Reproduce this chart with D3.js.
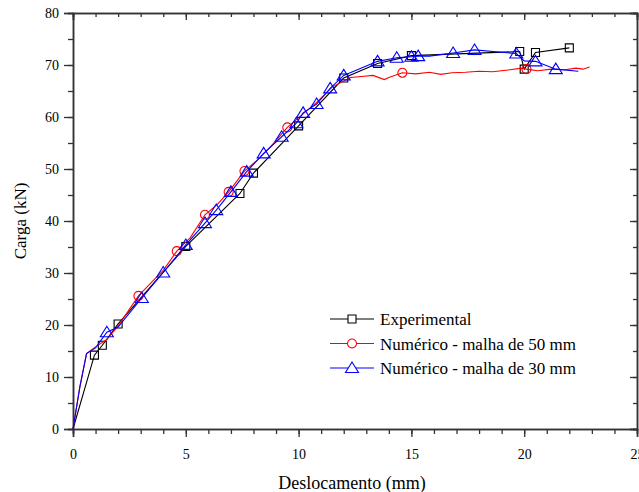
<!DOCTYPE html>
<html>
<head>
<meta charset="utf-8">
<script src="https://cdn.jsdelivr.net/npm/d3@7"></script>
<style>
  body { margin: 0; background: #fff; }
  svg { display: block; }
  svg text { font-family: "Liberation Serif", "DejaVu Serif", serif !important; }
</style>
</head>
<body>
<div id="chart"></div>
<script>
// axis ticks
const xTicks = [0, 5, 10, 15, 20, 25];
const yTicks = [0, 10, 20, 30, 40, 50, 60, 70, 80];

// Experimental (black squares)
const expX = [0, 0.95, 1.3, 2.0, 5.0, 7.4, 8.0, 10.0, 12.0, 13.5, 15.0, 19.8, 20.0, 20.5, 22.0];
const expY = [0, 14.2, 16.1, 20.2, 35.1, 45.3, 49.2, 58.3, 67.5, 70.3, 71.8, 72.6, 69.2, 72.4, 73.3];

// Numérico - malha de 50 mm (red, circles on some points)
const redX = [0, 0.3, 0.6, 1.0, 1.5, 2.0, 2.9, 3.5, 4.0, 4.6, 5.2, 5.85, 6.4, 6.9, 7.6, 8.2, 8.8, 9.5, 10.2, 10.8, 11.5, 12.0, 12.3, 12.8, 13.3, 13.8, 14.0, 14.6, 15.2, 15.8, 16.3, 16.8, 17.4, 18.0, 18.6, 19.2, 19.9, 20.1, 20.6, 21.2, 21.8, 22.3, 22.6, 22.9];
const redY = [0, 8, 14.5, 15.8, 17.2, 19.8, 25.6, 28.3, 30.5, 34.2, 36.8, 41.2, 43.2, 45.6, 49.6, 51.8, 54.5, 58.0, 60.6, 62.8, 65.8, 66.9, 67.6, 67.8, 68.0, 67.2, 67.6, 68.5, 68.3, 68.6, 68.2, 68.5, 68.6, 68.8, 68.7, 69.0, 69.4, 69.2, 68.9, 69.2, 69.1, 69.4, 69.2, 69.6];
const redMarked = [6, 9, 11, 13, 14, 17, 27, 37];

// Numérico - malha de 30 mm (blue triangles)
const blueX = [0, 0.3, 0.6, 1.0, 1.5, 2.0, 3.05, 4.0, 5.0, 5.85, 6.35, 7.0, 7.7, 8.45, 9.25, 9.9, 10.2, 10.8, 11.4, 12.0, 13.5, 14.35, 15.0, 15.3, 15.8, 16.85, 17.8, 19.65, 20.0, 20.5, 21.4, 22.4];
const blueY = [0, 8, 14.5, 15.6, 18.6, 19.6, 25.2, 30.1, 35.4, 39.6, 42.1, 45.6, 49.5, 53.0, 56.2, 58.8, 60.8, 62.5, 65.5, 68.0, 70.7, 71.4, 71.6, 71.7, 71.7, 72.3, 72.9, 72.2, 70.8, 70.7, 69.2, 68.8];
const blueUnmarked = [0, 1, 2, 3, 5, 24, 28, 31];

const seriesNames = ["Experimental", "Numérico - malha de 50 mm", "Numérico - malha de 30 mm"];
const seriesColors = ["#000000", "#ff0000", "#0000ff"];

const serif = "Liberation Serif, DejaVu Serif, serif";
const width = 639, height = 492;
const margin = { left: 73, right: 2, top: 13, bottom: 63 };

const svg = d3.select("#chart").append("svg")
    .attr("width", width)
    .attr("height", height)
    .attr("font-family", serif);

const x = d3.scaleLinear().domain([0, 25]).range([margin.left, width - margin.right]);
const y = d3.scaleLinear().domain([0, 80]).range([height - margin.bottom, margin.top]);

const axisColor = "#333";

// minor + major ticks on all 4 sides
function drawAxis(axis, transform, showLabels) {
    const g = svg.append("g").attr("transform", transform).call(axis);
    g.attr("font-family", serif).attr("font-size", 14);
    g.select(".domain").attr("stroke", axisColor).attr("stroke-width", 1.5);
    g.selectAll(".tick line").attr("stroke", axisColor).attr("stroke-width", 1.3);
    g.selectAll(".tick text").attr("fill", "#000");
    if (!showLabels) g.selectAll(".tick text").remove();
    return g;
}

const xMinor = d3.range(0, 26, 1);
const yMinor = d3.range(0, 81, 5);

// bottom
drawAxis(d3.axisBottom(x).tickValues(xMinor).tickSize(5).tickFormat(""), `translate(0,${y(0)})`, false);
drawAxis(d3.axisBottom(x).tickValues(xTicks).tickSize(8).tickPadding(12).tickFormat(d3.format("d")), `translate(0,${y(0)})`, true);
// top (inward)
drawAxis(d3.axisBottom(x).tickValues(xMinor).tickSize(4).tickFormat(""), `translate(0,${y(80)})`, false);
drawAxis(d3.axisBottom(x).tickValues(xTicks).tickSize(7).tickFormat(""), `translate(0,${y(80)})`, false);
// left
drawAxis(d3.axisLeft(y).tickValues(yMinor).tickSize(5).tickFormat(""), `translate(${x(0)},0)`, false);
drawAxis(d3.axisLeft(y).tickValues(yTicks).tickSize(9).tickPadding(5).tickFormat(d3.format("d")), `translate(${x(0)},0)`, true);
// right (inward)
drawAxis(d3.axisLeft(y).tickValues(yMinor).tickSize(4).tickFormat(""), `translate(${x(25)},0)`, false);
drawAxis(d3.axisLeft(y).tickValues(yTicks).tickSize(7).tickFormat(""), `translate(${x(25)},0)`, false);

// axis titles
svg.append("text")
    .attr("x", (x(0) + x(25)) / 2 - 3)
    .attr("y", 489)
    .attr("text-anchor", "middle")
    .attr("font-size", 18)
    .text("Deslocamento (mm)");

svg.append("text")
    .attr("transform", `translate(26,${(y(0) + y(80)) / 2}) rotate(-90)`)
    .attr("text-anchor", "middle")
    .attr("font-size", 17)
    .text("Carga (kN)");

const line = d3.line().x(d => x(d[0])).y(d => y(d[1]));

function drawSeries(xs, ys, color, marker, markedIdx) {
    const pts = xs.map((v, i) => [v, ys[i]]);
    svg.append("path")
        .datum(pts)
        .attr("fill", "none")
        .attr("stroke", color)
        .attr("stroke-width", 1.1)
        .attr("d", line);
    const mpts = pts.filter((p, i) => markedIdx(i));
    svg.append("g").selectAll("path")
        .data(mpts)
        .enter().append("path")
        .attr("transform", d => `translate(${x(d[0])},${y(d[1])})`)
        .attr("d", marker)
        .attr("fill", "none")
        .attr("stroke", color)
        .attr("stroke-width", 1.1);
}

const squareSym = d3.symbol().type(d3.symbolSquare).size(64)();
const circleSym = d3.symbol().type(d3.symbolCircle).size(64)();
const triSym = "M0,-6L6.5,4.5L-6.5,4.5Z";

drawSeries(expX, expY, seriesColors[0], squareSym, i => i > 0);
drawSeries(redX, redY, seriesColors[1], circleSym, i => redMarked.includes(i));
drawSeries(blueX, blueY, seriesColors[2], triSym, i => !blueUnmarked.includes(i));

// legend
const legendSyms = [squareSym, circleSym, triSym];
const legend = svg.append("g");
seriesNames.forEach((name, i) => {
    const ly = 319 + i * 24.5;
    legend.append("line")
        .attr("x1", 330).attr("x2", 374)
        .attr("y1", ly).attr("y2", ly)
        .attr("stroke", seriesColors[i]).attr("stroke-width", 1.1);
    legend.append("path")
        .attr("transform", `translate(352,${ly})`)
        .attr("d", legendSyms[i])
        .attr("fill", "#fff")
        .attr("stroke", seriesColors[i]).attr("stroke-width", 1.1);
    legend.append("text")
        .attr("x", 380).attr("y", ly + 6)
        .attr("font-size", 17)
        .text(name);
});
</script>
</body>
</html>
